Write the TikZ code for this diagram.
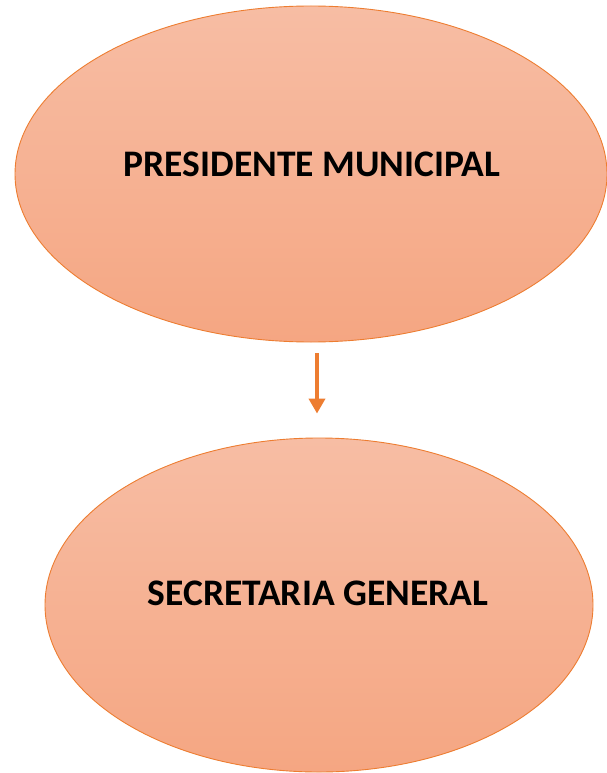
\documentclass[tikz,border=0pt]{standalone}
\usepackage{fontspec}
\setmainfont{Carlito}
\usetikzlibrary{shapes.geometric,arrows.meta}
\definecolor{naranja}{HTML}{ED7D31}
\definecolor{salmonclaro}{HTML}{F7BDA4}
\definecolor{salmon}{HTML}{F5A682}
\begin{document}
\begin{tikzpicture}[x=1pt,y=-1pt,
    cargo/.style={ellipse,draw=naranja,line width=0.9pt,inner sep=0pt,
      top color=salmonclaro,bottom color=salmon},
    texto/.style={font=\fontsize{37.5}{44}\selectfont\bfseries},
    flecha/.style={naranja,line width=4pt,-{Triangle[width=16pt,length=15pt]}}]
  \useasboundingbox (0,0) rectangle (606,773);
  \node[cargo,minimum width=592pt,minimum height=336pt] (pres) at (311,174) {};
  \node[texto] at (312,164) (prestxt) {PRESIDENTE MUNICIPAL};
  \node[cargo,minimum width=548pt,minimum height=334pt] (sec) at (319,605) {};
  \node[texto] at (318,593) (sectxt) {SECRETARIA GENERAL};
  \draw[flecha] ([xshift=6pt,yshift=-11pt]pres.south) -- ([xshift=-2pt,yshift=24pt]sec.north);
\end{tikzpicture}
\end{document}
